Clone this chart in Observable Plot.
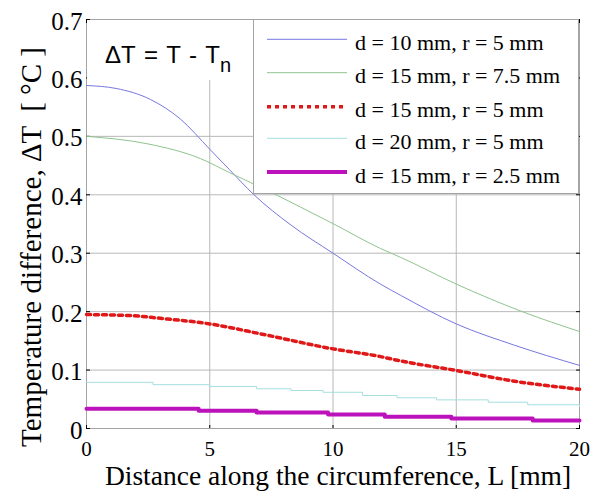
<!DOCTYPE html>
<html><head><meta charset="utf-8">
<script src="https://cdn.jsdelivr.net/npm/d3@7"></script>
<script src="https://cdn.jsdelivr.net/npm/@observablehq/plot@0.6"></script>
<style>
body{margin:0;background:#fff;}
#wrap{position:relative;width:601px;height:493px;overflow:hidden;}
.ov{position:absolute;}
</style></head><body><div id="wrap"></div>
<script>
// ---- data ----
const xTicks = [0, 5, 10, 15, 20];
const yTicks = [0, 0.1, 0.2, 0.3, 0.4, 0.5, 0.6, 0.7];
const yTickLabels = ["0", "0.1", "0.2", "0.3", "0.4", "0.5", "0.6", "0.7"];
const xLabel = "Distance along the circumference, L [mm]";
const yLabel = "Temperature difference, \u0394T  [ \u00B0C ]";
const seriesNames = ["d = 10 mm, r = 5 mm", "d = 15 mm, r = 7.5 mm", "d = 15 mm, r = 5 mm", "d = 20 mm, r = 5 mm", "d = 15 mm, r = 2.5 mm"];
const seriesColors = ["#7777e0", "#8fc48f", "#e01818", "#a6dede", "#bb12bb"];

const L1 = [0, 1.2, 2.6, 3.8, 5, 5.8, 6.77, 8.3, 10, 11.93, 12.74, 15, 17.33, 20];
const T1 = [0.587, 0.582, 0.563, 0.530, 0.478, 0.443, 0.401, 0.348, 0.300, 0.247, 0.228, 0.179, 0.143, 0.108];
const L2 = [0, 2.5, 4.62, 5.8, 7.5, 8.68, 10.03, 11.93, 12.74, 15.01, 17.74, 20];
const T2 = [0.500, 0.487, 0.462, 0.438, 0.404, 0.379, 0.350, 0.308, 0.293, 0.247, 0.199, 0.166];
const L3 = [0, 1.9, 2.9, 5, 7.06, 9.9, 11.93, 12.7, 15.04, 17.5, 19.8, 20];
const T3 = [0.195, 0.193, 0.189, 0.179, 0.162, 0.137, 0.123, 0.116, 0.099, 0.080, 0.068, 0.067];
const L4 = [0, 2.7, 5.0, 6.9, 8.3, 9.6, 11.2, 12.6, 14.2, 16.3, 17.9, 20];
const T4 = [0.079, 0.075, 0.072, 0.068, 0.065, 0.062, 0.0565, 0.0526, 0.049, 0.045, 0.0406, 0.038];
const L5 = [0, 4.55, 6.9, 9.8, 12.1, 14.8, 18.1, 20];
const T5 = [0.0337, 0.0303, 0.0274, 0.024, 0.020, 0.0171, 0.0137, 0.0137];

const Ls = [L1, L2, L3, L4, L5];
const Ts = [T1, T2, T3, T4, T5];
const series = Ls.map((L, k) => L.map((x, i) => ({L: x, T: Ts[k][i]})));
const lineStyles = [
  {strokeWidth: 1, curve: "monotone-x"},
  {strokeWidth: 1, curve: "monotone-x"},
  {strokeWidth: 3.5, strokeDasharray: "4 4", curve: "monotone-x"},
  {strokeWidth: 1, curve: "step-after"},
  {strokeWidth: 4, curve: "step-after"}
];

const serif = "'Liberation Serif','Times New Roman',serif";
const yFmt = new Map(yTicks.map((v, i) => [v, yTickLabels[i]]));

const plot = Plot.plot({
  width: 601, height: 493,
  marginLeft: 86, marginRight: 22, marginTop: 19, marginBottom: 65,
  style: {fontFamily: serif, background: "white", color: "black"},
  x: {domain: [0, 20]},
  y: {domain: [0, 0.7]},
  marks: [
    Plot.gridX(xTicks.slice(1, -1), {stroke: "#b8b8b8", strokeOpacity: 1}),
    Plot.gridY(yTicks.slice(1, -1), {stroke: "#b8b8b8", strokeOpacity: 1}),
    Plot.frame({stroke: "#a4a4a4"}),
    Plot.axisX(xTicks, {anchor: "bottom", tickSize: -3, text: null, label: null, stroke: "black"}),
    Plot.axisX(xTicks, {anchor: "top", tickSize: -3, text: null, label: null, stroke: "black"}),
    Plot.axisY(yTicks, {anchor: "left", tickSize: -4, text: null, label: null, stroke: "black"}),
    Plot.axisY(yTicks, {anchor: "right", tickSize: -4, text: null, label: null, stroke: "black"}),
    Plot.axisX(xTicks, {anchor: "bottom", tickSize: 0, tickPadding: 13, fontSize: 21, fontVariant: "normal", label: null, tickFormat: d => String(d)}),
    Plot.axisY(yTicks, {anchor: "left", tickSize: 0, tickPadding: 4, fontSize: 25, fontVariant: "normal", label: null, tickFormat: d => yFmt.get(d), dy: 2}),
    ...series.map((s, k) => Plot.line(s, {x: "L", y: "T", stroke: seriesColors[k], ...lineStyles[k]})),
    Plot.text([xLabel], {frameAnchor: "bottom", lineAnchor: "bottom", dy: 56, dx: 5, fontSize: 27.5}),
    Plot.text([yLabel], {frameAnchor: "left", textAnchor: "middle", lineAnchor: "middle", rotate: -90, dx: -55, dy: 23, fontSize: 29})
  ]
});
d3.select(plot).selectAll("text").style("font-family", serif);

const wrap = document.getElementById("wrap");
wrap.appendChild(plot);

// annotation box (white, hides grid)
const ann = d3.select(wrap).append("svg").attr("class", "ov")
  .style("left", "87px").style("top", "20px").attr("width", 166).attr("height", 60);
ann.append("rect").attr("width", 166).attr("height", 60).attr("fill", "white");
const annText = ann.append("text").attr("x", 18).attr("y", 43)
  .style("font-family", "'Liberation Sans',Arial,sans-serif").attr("font-size", 24).attr("fill", "black")
  .attr("word-spacing", 2);
annText.append("tspan").text("\u0394T = T - T");
annText.append("tspan").attr("font-size", 20).attr("dy", 9).text("n");

// legend
const lg = d3.select(wrap).append("svg").attr("class", "ov")
  .style("left", "253px").style("top", "19px").attr("width", 327).attr("height", 175);
lg.append("rect").attr("x", 0.5).attr("y", 0.5).attr("width", 325).attr("height", 174)
  .attr("fill", "white").attr("stroke", "#a4a4a4");
const rowY = [20.3, 53.7, 87.7, 119.3, 153];
seriesNames.forEach((name, k) => {
  const st = lineStyles[k];
  lg.append("line").attr("x1", 14).attr("x2", 94).attr("y1", rowY[k]).attr("y2", rowY[k])
    .attr("stroke", seriesColors[k]).attr("stroke-width", st.strokeWidth)
    .attr("stroke-dasharray", st.strokeDasharray || null);
  lg.append("text").attr("x", 102).attr("y", rowY[k] + 10.5)
    .style("font-family", serif).attr("font-size", 22).attr("fill", "black").text(name);
});
</script>
</body></html>
